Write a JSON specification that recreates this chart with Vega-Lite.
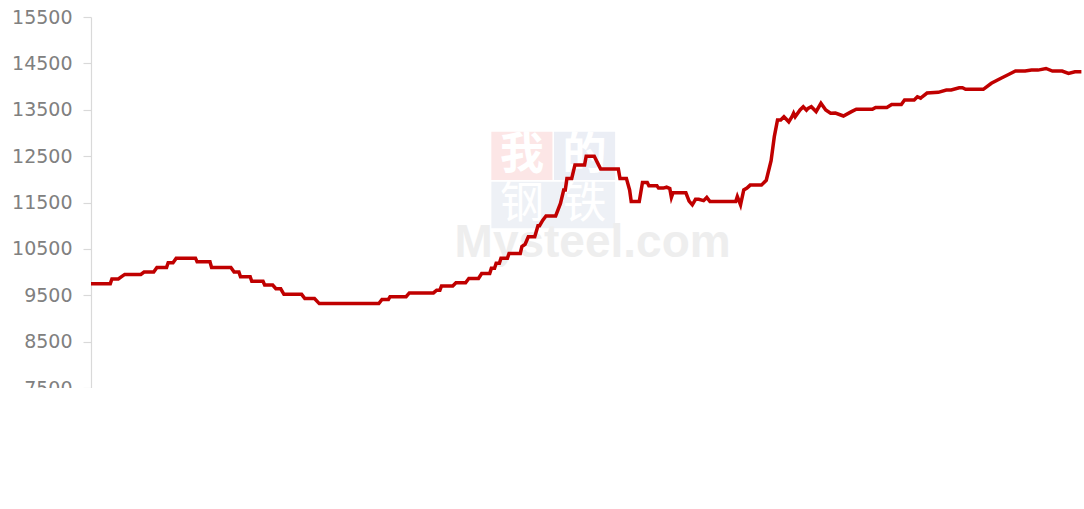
{
  "$schema": "https://vega.github.io/schema/vega-lite/v6.json",
  "width": 992,
  "height": 371,
  "autosize": {"type": "none"},
  "padding": {"left": 91, "top": 17, "right": 0, "bottom": 0},
  "background": "white",
  "config": {"view": {"stroke": null}},
  "datasets": {
    "price": [
      {"date": "2021-01-01", "price": 9750}, {"date": "2021-01-13", "price": 9750},
      {"date": "2021-01-14", "price": 9850}, {"date": "2021-01-18", "price": 9850},
      {"date": "2021-01-20", "price": 9900}, {"date": "2021-01-22", "price": 9950},
      {"date": "2021-02-01", "price": 9950}, {"date": "2021-02-03", "price": 10000},
      {"date": "2021-02-09", "price": 10000}, {"date": "2021-02-11", "price": 10100},
      {"date": "2021-02-17", "price": 10100}, {"date": "2021-02-18", "price": 10200},
      {"date": "2021-02-21", "price": 10200}, {"date": "2021-02-23", "price": 10300},
      {"date": "2021-03-07", "price": 10300}, {"date": "2021-03-08", "price": 10220},
      {"date": "2021-03-16", "price": 10220}, {"date": "2021-03-17", "price": 10100},
      {"date": "2021-03-29", "price": 10100}, {"date": "2021-03-31", "price": 10000},
      {"date": "2021-04-03", "price": 10000}, {"date": "2021-04-04", "price": 9900},
      {"date": "2021-04-10", "price": 9900}, {"date": "2021-04-11", "price": 9800},
      {"date": "2021-04-18", "price": 9800}, {"date": "2021-04-19", "price": 9720},
      {"date": "2021-04-24", "price": 9720}, {"date": "2021-04-26", "price": 9640},
      {"date": "2021-04-29", "price": 9640}, {"date": "2021-05-01", "price": 9520},
      {"date": "2021-05-12", "price": 9520}, {"date": "2021-05-14", "price": 9430},
      {"date": "2021-05-20", "price": 9430}, {"date": "2021-05-23", "price": 9320},
      {"date": "2021-06-29", "price": 9320}, {"date": "2021-07-01", "price": 9410},
      {"date": "2021-07-05", "price": 9410}, {"date": "2021-07-06", "price": 9470},
      {"date": "2021-07-16", "price": 9470}, {"date": "2021-07-18", "price": 9550},
      {"date": "2021-08-02", "price": 9550}, {"date": "2021-08-04", "price": 9610},
      {"date": "2021-08-06", "price": 9610}, {"date": "2021-08-07", "price": 9700},
      {"date": "2021-08-14", "price": 9700}, {"date": "2021-08-16", "price": 9770},
      {"date": "2021-08-22", "price": 9770}, {"date": "2021-08-24", "price": 9860},
      {"date": "2021-08-30", "price": 9860}, {"date": "2021-09-01", "price": 9970},
      {"date": "2021-09-06", "price": 9970}, {"date": "2021-09-07", "price": 10080},
      {"date": "2021-09-09", "price": 10080}, {"date": "2021-09-10", "price": 10190},
      {"date": "2021-09-12", "price": 10190}, {"date": "2021-09-13", "price": 10300},
      {"date": "2021-09-17", "price": 10300}, {"date": "2021-09-18", "price": 10400},
      {"date": "2021-09-25", "price": 10400}, {"date": "2021-09-26", "price": 10550},
      {"date": "2021-09-28", "price": 10600}, {"date": "2021-09-30", "price": 10760},
      {"date": "2021-10-04", "price": 10760}, {"date": "2021-10-06", "price": 11000},
      {"date": "2021-10-07", "price": 11000}, {"date": "2021-10-09", "price": 11120},
      {"date": "2021-10-11", "price": 11210}, {"date": "2021-10-17", "price": 11210},
      {"date": "2021-10-20", "price": 11480}, {"date": "2021-10-22", "price": 11770},
      {"date": "2021-10-23", "price": 11770}, {"date": "2021-10-24", "price": 12020},
      {"date": "2021-10-27", "price": 12020}, {"date": "2021-10-29", "price": 12310},
      {"date": "2021-11-04", "price": 12310}, {"date": "2021-11-05", "price": 12500},
      {"date": "2021-11-10", "price": 12500}, {"date": "2021-11-13", "price": 12290},
      {"date": "2021-11-14", "price": 12220}, {"date": "2021-11-25", "price": 12220},
      {"date": "2021-11-26", "price": 12020}, {"date": "2021-11-30", "price": 12020},
      {"date": "2021-12-02", "price": 11770}, {"date": "2021-12-03", "price": 11520},
      {"date": "2021-12-08", "price": 11520}, {"date": "2021-12-10", "price": 11930},
      {"date": "2021-12-13", "price": 11930}, {"date": "2021-12-14", "price": 11860},
      {"date": "2021-12-19", "price": 11860}, {"date": "2021-12-20", "price": 11810},
      {"date": "2021-12-23", "price": 11810}, {"date": "2021-12-25", "price": 11830},
      {"date": "2021-12-27", "price": 11800}, {"date": "2021-12-28", "price": 11610},
      {"date": "2021-12-29", "price": 11710}, {"date": "2022-01-06", "price": 11710},
      {"date": "2022-01-08", "price": 11530}, {"date": "2022-01-10", "price": 11450},
      {"date": "2022-01-12", "price": 11570}, {"date": "2022-01-14", "price": 11570},
      {"date": "2022-01-17", "price": 11540}, {"date": "2022-01-19", "price": 11610},
      {"date": "2022-01-21", "price": 11520}, {"date": "2022-02-06", "price": 11520},
      {"date": "2022-02-07", "price": 11630}, {"date": "2022-02-09", "price": 11450},
      {"date": "2022-02-11", "price": 11770}, {"date": "2022-02-13", "price": 11810},
      {"date": "2022-02-15", "price": 11875}, {"date": "2022-02-22", "price": 11875},
      {"date": "2022-02-25", "price": 11980}, {"date": "2022-02-28", "price": 12400},
      {"date": "2022-03-02", "price": 12920}, {"date": "2022-03-04", "price": 13280},
      {"date": "2022-03-06", "price": 13280}, {"date": "2022-03-08", "price": 13350},
      {"date": "2022-03-11", "price": 13240}, {"date": "2022-03-13", "price": 13350},
      {"date": "2022-03-14", "price": 13425}, {"date": "2022-03-15", "price": 13350},
      {"date": "2022-03-18", "price": 13495}, {"date": "2022-03-20", "price": 13565},
      {"date": "2022-03-22", "price": 13490}, {"date": "2022-03-23", "price": 13530},
      {"date": "2022-03-25", "price": 13565}, {"date": "2022-03-28", "price": 13460},
      {"date": "2022-03-31", "price": 13640}, {"date": "2022-04-03", "price": 13495},
      {"date": "2022-04-06", "price": 13425}, {"date": "2022-04-09", "price": 13430},
      {"date": "2022-04-14", "price": 13365}, {"date": "2022-04-19", "price": 13460},
      {"date": "2022-04-22", "price": 13510}, {"date": "2022-05-02", "price": 13510},
      {"date": "2022-05-04", "price": 13550}, {"date": "2022-05-11", "price": 13550},
      {"date": "2022-05-14", "price": 13615}, {"date": "2022-05-20", "price": 13615},
      {"date": "2022-05-22", "price": 13710}, {"date": "2022-05-28", "price": 13710},
      {"date": "2022-05-30", "price": 13780}, {"date": "2022-06-01", "price": 13750},
      {"date": "2022-06-02", "price": 13780}, {"date": "2022-06-05", "price": 13860},
      {"date": "2022-06-12", "price": 13875}, {"date": "2022-06-17", "price": 13925},
      {"date": "2022-06-20", "price": 13925}, {"date": "2022-06-25", "price": 13975},
      {"date": "2022-06-27", "price": 13975}, {"date": "2022-06-29", "price": 13940},
      {"date": "2022-07-10", "price": 13940}, {"date": "2022-07-15", "price": 14070},
      {"date": "2022-07-21", "price": 14180}, {"date": "2022-07-26", "price": 14265},
      {"date": "2022-07-30", "price": 14335}, {"date": "2022-08-05", "price": 14335},
      {"date": "2022-08-09", "price": 14355}, {"date": "2022-08-13", "price": 14355},
      {"date": "2022-08-18", "price": 14390}, {"date": "2022-08-22", "price": 14335},
      {"date": "2022-08-28", "price": 14335}, {"date": "2022-09-01", "price": 14285},
      {"date": "2022-09-05", "price": 14320}, {"date": "2022-09-09", "price": 14320}
    ]
  },
  "layer": [
    {
      "data": {"values": [{}]},
      "mark": {"type": "rect", "color": "#fce6e6"},
      "encoding": {
        "x": {"datum": {"year": 2021, "month": 9, "date": 7, "utc": true}, "type": "temporal"},
        "x2": {"datum": {"year": 2021, "month": 10, "date": 15, "utc": true}},
        "y": {"datum": 13026, "type": "quantitative"},
        "y2": {"datum": 11985}
      }
    },
    {
      "data": {"values": [{}]},
      "mark": {"type": "rect", "color": "#ebeef5"},
      "encoding": {
        "x": {"datum": {"year": 2021, "month": 10, "date": 16, "utc": true}, "type": "temporal"},
        "x2": {"datum": {"year": 2021, "month": 11, "date": 23, "utc": true}},
        "y": {"datum": 13026, "type": "quantitative"},
        "y2": {"datum": 11985}
      }
    },
    {
      "data": {"values": [{}]},
      "mark": {"type": "rect", "color": "#eef1f6"},
      "encoding": {
        "x": {"datum": {"year": 2021, "month": 9, "date": 7, "utc": true}, "type": "temporal"},
        "x2": {"datum": {"year": 2021, "month": 11, "date": 23, "utc": true}},
        "y": {"datum": 11948, "type": "quantitative"},
        "y2": {"datum": 10943}
      }
    },
    {
      "data": {"values": [{"t": "我"}]},
      "mark": {"type": "text", "color": "white", "font": "Noto Sans CJK SC", "fontSize": 44, "fontWeight": "bold", "baseline": "middle", "align": "center"},
      "encoding": {
        "x": {"datum": {"year": 2021, "month": 9, "date": 26, "utc": true}, "type": "temporal"},
        "y": {"datum": 12506, "type": "quantitative"},
        "text": {"field": "t"}
      }
    },
    {
      "data": {"values": [{"t": "的"}]},
      "mark": {"type": "text", "color": "white", "font": "Noto Sans CJK SC", "fontSize": 44, "fontWeight": "bold", "baseline": "middle", "align": "center"},
      "encoding": {
        "x": {"datum": {"year": 2021, "month": 11, "date": 4, "utc": true}, "type": "temporal"},
        "y": {"datum": 12506, "type": "quantitative"},
        "text": {"field": "t"}
      }
    },
    {
      "data": {"values": [{"t": "钢"}]},
      "mark": {"type": "text", "color": "white", "font": "Noto Sans CJK SC", "fontSize": 44, "baseline": "middle", "align": "center"},
      "encoding": {
        "x": {"datum": {"year": 2021, "month": 9, "date": 26, "utc": true}, "type": "temporal"},
        "y": {"datum": 11446, "type": "quantitative"},
        "text": {"field": "t"}
      }
    },
    {
      "data": {"values": [{"t": "铁"}]},
      "mark": {"type": "text", "color": "white", "font": "Noto Sans CJK SC", "fontSize": 44, "baseline": "middle", "align": "center"},
      "encoding": {
        "x": {"datum": {"year": 2021, "month": 11, "date": 4, "utc": true}, "type": "temporal"},
        "y": {"datum": 11446, "type": "quantitative"},
        "text": {"field": "t"}
      }
    },
    {
      "data": {"values": [{"t": "Mysteel.com"}]},
      "mark": {"type": "text", "color": "#eeeeee", "font": "Liberation Sans", "fontSize": 46, "fontWeight": "bold", "baseline": "alphabetic", "align": "center"},
      "encoding": {
        "x": {"datum": {"year": 2021, "month": 11, "date": 9, "utc": true}, "type": "temporal"},
        "y": {"datum": 10330, "type": "quantitative"},
        "text": {"field": "t"}
      }
    },
    {
      "data": {"name": "price"},
      "mark": {"type": "line", "color": "#C00000", "strokeWidth": 3.5},
      "encoding": {
        "x": {
          "field": "date",
          "type": "temporal",
          "scale": {
            "type": "utc",
            "domain": [{"year": 2021, "month": 1, "date": 1, "utc": true}, {"year": 2022, "month": 9, "date": 10, "utc": true}]
          },
          "axis": {
            "title": null,
            "grid": false,
            "values": [
              {"year": 2021, "month": 1, "date": 1, "utc": true},
              {"year": 2021, "month": 2, "date": 1, "utc": true},
              {"year": 2021, "month": 3, "date": 1, "utc": true},
              {"year": 2021, "month": 4, "date": 1, "utc": true},
              {"year": 2021, "month": 5, "date": 1, "utc": true},
              {"year": 2021, "month": 6, "date": 1, "utc": true},
              {"year": 2021, "month": 7, "date": 1, "utc": true},
              {"year": 2021, "month": 8, "date": 1, "utc": true},
              {"year": 2021, "month": 9, "date": 1, "utc": true},
              {"year": 2021, "month": 10, "date": 1, "utc": true},
              {"year": 2021, "month": 11, "date": 1, "utc": true},
              {"year": 2021, "month": 12, "date": 1, "utc": true},
              {"year": 2022, "month": 1, "date": 1, "utc": true},
              {"year": 2022, "month": 2, "date": 1, "utc": true},
              {"year": 2022, "month": 3, "date": 1, "utc": true},
              {"year": 2022, "month": 4, "date": 1, "utc": true},
              {"year": 2022, "month": 5, "date": 1, "utc": true},
              {"year": 2022, "month": 6, "date": 1, "utc": true},
              {"year": 2022, "month": 7, "date": 1, "utc": true},
              {"year": 2022, "month": 8, "date": 1, "utc": true},
              {"year": 2022, "month": 9, "date": 1, "utc": true}
            ],
            "format": "%Y/%-m/%-d",
            "formatType": "utc",
            "labelAngle": -90,
            "labelFont": "DejaVu Sans",
            "labelFontSize": 19,
            "labelColor": "#808080",
            "labelPadding": 10,
            "labelOverlap": false,
            "labelFlush": false,
            "domainColor": "#d9d9d9",
            "domainWidth": 1.2,
            "tickColor": "#d9d9d9",
            "tickSize": 6,
            "tickWidth": 1.2
          }
        },
        "y": {
          "field": "price",
          "type": "quantitative",
          "scale": {"domain": [7500, 15500], "nice": false, "zero": false},
          "axis": {
            "title": null,
            "grid": false,
            "values": [7500, 8500, 9500, 10500, 11500, 12500, 13500, 14500, 15500],
            "format": "d",
            "labelFont": "DejaVu Sans",
            "labelFontSize": 19,
            "labelColor": "#808080",
            "labelPadding": 11,
            "labelFlush": false,
            "labelOverlap": false,
            "domainColor": "#d9d9d9",
            "domainWidth": 1.2,
            "tickColor": "#d9d9d9",
            "tickSize": 8,
            "tickWidth": 1.2
          }
        }
      }
    }
  ]
}
